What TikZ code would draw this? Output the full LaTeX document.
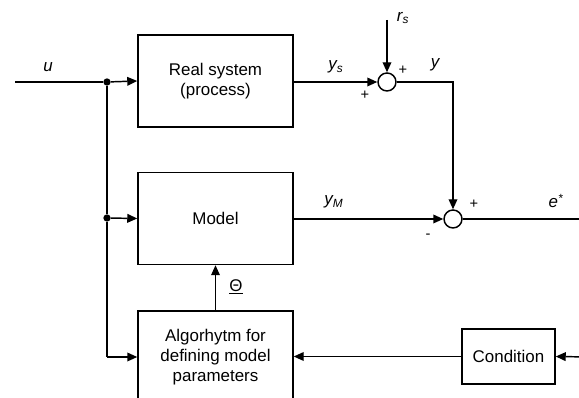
\documentclass[tikz,border=0pt]{standalone}
\usepackage{fontspec}
\setmainfont{Liberation Sans}
\usetikzlibrary{calc,arrows.meta}

\tikzset{
  blok/.style={draw, line width=1.1pt, minimum width=116.25pt, minimum height=69pt, align=center, inner sep=0pt},
  som/.style={draw, line width=1.1pt, circle, minimum size=13.5pt, inner sep=0pt},
  dot/.style={circle, fill, minimum size=5.5pt, inner sep=0pt},
  lijn/.style={line width=1.1pt},
  pijl/.style={line width=1.1pt, -{Triangle[length=7.5pt,width=6.5pt]}},
  lab/.style={font=\fontsize{12.7}{15}\selectfont\itshape},
  teken/.style={font=\fontsize{11}{13}\selectfont}
}

\begin{document}
\begin{tikzpicture}[x=0.75pt, y=-0.75pt, font=\fontsize{12.7}{15}\selectfont]
    \clip (0,0) rectangle (579,398); % 画布大小
    \node[blok] (real) at (215.5,81) {Real system\\(process)}; % 实际系统
    \node[blok] (model) at (215.5,218.5) {Model}; % 模型
    \node[blok] (algo) at (215.5,357) {Algorhytm for\\defining model\\parameters}; % 参数算法
    \node[blok, minimum width=69.75pt, minimum height=41.25pt] (cond) at (508.5,356.5) {Condition}; % 条件
    \node[som] (sum1) at (387,82) {}; % 求和点1
    \node[som] (sum2) at (453,219) {}; % 求和点2
    \node[dot] (j1) at (107,82) {}; % 分支点1
    \node[dot] (j2) at (107,218) {}; % 分支点2
    \coordinate (in) at (15,82); % 输入
    \coordinate (rs) at (387,20); % 扰动
    \coordinate (out) at (590,219); % 输出
    \coordinate (cin) at (590,357); % 条件输入
    \coordinate (j3) at (107,357); % 转角

    \draw[lijn] (in) -- (j1); % 输入线
    \draw[pijl] (j1) -- (real.west);
    \draw[lijn] (j1) -- (j2) -- (j3);
    \draw[pijl] (j2) -- (model.west);
    \draw[pijl] (j3) -- (algo.west);
    \draw[pijl] (real.east |- sum1) -- (sum1.west);
    \draw[pijl] (rs) -- (sum1.north);
    \draw[pijl] (sum1.east) -| (sum2.north);
    \draw[pijl] (model.east |- sum2) -- (sum2.west);
    \draw[lijn] (sum2.east) -- (out);
    \draw[pijl] (algo.north) -- (model.south); % 参数
    \draw[pijl] (cin) -- (cond.east);
    \draw[pijl] (cond.west) -- (algo.east |- cond.west);

    \node[lab] (lu) at (48,67) {u}; % 标注
    \node[lab] (lys) at (336,67) {y\textsubscript{s}};
    \node[lab] (lrs) at (403,18) {r\textsubscript{s}};
    \node[lab] (ly) at (435,65) {y};
    \node[lab] (lym) at (334,202) {y\textsubscript{M}};
    \node[lab] (le) at (556,201) {e\textsuperscript{*}};
    \node (lth) at (236,287) {\underline{Θ}};
    \node[teken] (p1) at (365,95) {+}; % 符号
    \node[teken] (p2) at (403,70) {+};
    \node[teken] (p3) at (474,204) {+};
    \node[teken] (m1) at (428,236) {-};
\end{tikzpicture}
\end{document}
